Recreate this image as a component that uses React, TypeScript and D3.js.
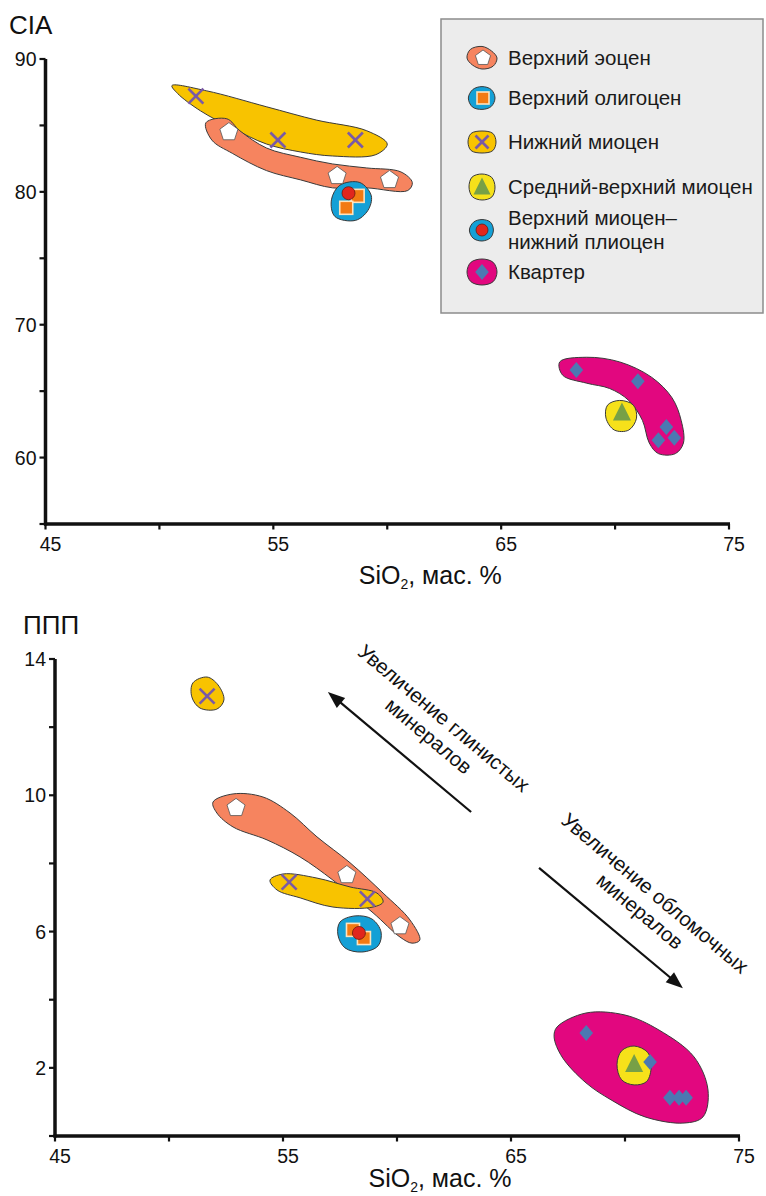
import React from "react";
import * as d3 from "d3";

// ---------- Tick definitions ----------
const xTicks = [45, 50, 55, 60, 65, 70, 75];
const xTickLabels = [45, 55, 65, 75];
const ciaTicks = [55, 60, 65, 70, 75, 80, 85, 90];
const ciaTickLabels = [60, 70, 80, 90];
const lossTicks = [0, 2, 4, 6, 8, 10, 12, 14];
const lossTickLabels = [2, 6, 10, 14];

// ---------- Top chart: CIA vs SiO2 ----------
const ciaEocene = [[53.05, 84.5], [57.8, 81.2], [60.1, 80.9]];
const ciaOligocene = [[58.7, 79.7], [58.2, 78.8]];
const ciaLowerMiocene = [[51.6, 87.2], [55.2, 83.9], [58.6, 83.9]];
const ciaMidUpperMiocene = [[70.3, 63.3]];
const ciaMioPliocene = [[58.3, 79.9]];
const ciaQuaternary = [[68.3, 66.6], [71.0, 65.75], [72.25, 62.3], [71.9, 61.3], [72.6, 61.5]];

// field outlines (SiO2, CIA)
const ciaFieldLowerMiocene = [[50.55, 88.0], [52.08, 87.6], [54.71, 86.4], [56.9, 85.4], [59.1, 84.6], [60.0, 83.6], [59.5, 82.8], [57.6, 82.7], [56.2, 83.0], [54.7, 83.6], [53.2, 84.8], [51.8, 86.1], [50.8, 87.4]];
const ciaFieldEocene = [[52.04, 85.2], [52.96, 85.5], [53.53, 84.6], [54.7, 83.3], [56.2, 82.6], [57.6, 82.1], [59.1, 81.8], [60.6, 81.5], [61.1, 80.7], [60.9, 80.1], [59.1, 80.3], [57.6, 80.3], [56.2, 80.9], [54.7, 81.6], [53.2, 82.9], [52.3, 83.9]];
const ciaFieldOligocene = [[57.92, 80.5], [58.8, 80.7], [59.3, 79.7], [59.15, 78.6], [58.6, 77.85], [57.7, 78.15], [57.55, 79.4]];
const ciaFieldQuaternary = [[67.57, 67.2], [68.75, 67.55], [70.2, 67.2], [71.6, 66.05], [72.5, 64.5], [72.9, 62.8], [73.0, 61.1], [72.65, 60.3], [71.9, 60.3], [71.5, 61.1], [71.2, 62.8], [70.6, 64.3], [69.76, 65.2], [68.75, 65.6], [67.7, 66.2]];
const ciaFieldMidUpperMiocene = [[69.67, 63.95], [70.2, 64.3], [70.8, 63.95], [70.94, 62.97], [70.6, 62.07], [69.97, 62.07], [69.6, 62.97]];

// ---------- Bottom chart: LOI (ППП) vs SiO2 ----------
const loiEocene = [[52.94, 9.63], [57.8, 7.66], [60.13, 6.16]];
const loiOligocene = [[58.07, 6.05], [58.55, 5.81]];
const loiLowerMiocene = [[51.67, 12.91], [55.27, 7.45], [58.7, 6.96]];
const loiMidUpperMiocene = [[70.4, 2.08]];
const loiMioPliocene = [[58.33, 5.96]];
const loiQuaternary = [[68.3, 3.02], [71.1, 2.17], [71.97, 1.12], [72.37, 1.12], [72.68, 1.12]];

const loiFieldEocene = [[51.93, 9.8], [52.81, 10.04], [54.12, 9.95], [55.31, 9.48], [56.49, 8.78], [57.94, 8.02], [59.39, 7.13], [60.57, 6.34], [61.0, 5.75], [60.66, 5.66], [60.13, 5.84], [58.95, 6.55], [57.19, 7.51], [55.75, 8.19], [54.3, 8.69], [52.81, 9.07], [52.1, 9.48]];
const loiFieldLowerMioceneA = [[51.05, 13.3], [51.67, 13.47], [52.15, 13.24], [52.41, 12.8], [52.1, 12.53], [51.36, 12.56], [51.0, 12.89]];
const loiFieldLowerMioceneB = [[54.43, 7.51], [55.0, 7.69], [56.49, 7.57], [57.94, 7.31], [59.12, 7.13], [59.39, 6.87], [58.95, 6.72], [57.19, 6.72], [55.75, 6.99], [54.74, 7.22]];
const loiFieldOligocene = [[57.5, 6.28], [58.16, 6.46], [58.9, 6.37], [59.3, 5.99], [59.17, 5.58], [58.46, 5.4], [57.72, 5.52], [57.41, 5.9]];
const loiFieldQuaternary = [[67.02, 3.2], [68.29, 3.61], [70.0, 3.55], [71.49, 3.11], [73.03, 2.32], [73.64, 1.35], [73.42, 0.56], [72.59, 0.38], [70.88, 0.56], [69.39, 1.06], [68.29, 1.56], [67.24, 2.32], [66.89, 2.91]];
const loiFieldMidUpperMiocene = [[70.4, 2.64], [71.0, 2.45], [71.15, 2.05], [70.95, 1.6], [70.4, 1.5], [69.85, 1.65], [69.65, 2.1], [69.85, 2.5]];

// annotation arrows (SiO2, LOI)
const arrowClay = [[63.25, 9.51], [56.97, 13.03]];
const arrowClastic = [[66.23, 7.87], [72.54, 4.34]];
const textClayLines = ["Увеличение глинистых", "минералов"];
const textClayAnchor = [62.06, 12.27];
const textClasticLines = ["Увеличение обломочных", "минералов"];
const textClasticAnchor = [71.32, 7.13];

// ---------- Legend ----------
const legendLabels = [
  ["Верхний эоцен"],
  ["Верхний олигоцен"],
  ["Нижний миоцен"],
  ["Средний-верхний миоцен"],
  ["Верхний миоцен–", "нижний плиоцен"],
  ["Квартер"],
];

const FONT = "'Liberation Sans', Arial, Helvetica, sans-serif";
const C = {
  salmon: "#f6845f",
  gold: "#f8c300",
  yellow: "#f6e11a",
  blue: "#14a0d6",
  magenta: "#e2077f",
  purple: "#7a5aa5",
  orange: "#f27a12",
  red: "#e1261d",
  green: "#77a046",
  diamond: "#4c78b2",
  outline: "#3a3a3a",
};

const W = 766;
const H = 1196;

// scales
const xTop = d3.scaleLinear().domain([45, 75]).range([45.5, 729]);
const yTop = d3.scaleLinear().domain([55, 90]).range([524, 59]);
const xBot = d3.scaleLinear().domain([45, 75]).range([55, 739]);
const yBot = d3.scaleLinear().domain([0, 14]).range([1136, 659]);

const blobPath = (pts: number[][], x: any, y: any) =>
  d3
    .line<number[]>()
    .x((d) => x(d[0]))
    .y((d) => y(d[1]))
    .curve(d3.curveCatmullRomClosed.alpha(0.5))(pts) as string;

const pentagon = (cx: number, cy: number, r: number) => {
  const p = d3.range(5).map((k) => {
    const a = -Math.PI / 2 + (k * 2 * Math.PI) / 5;
    return [cx + r * Math.cos(a), cy + r * Math.sin(a)];
  });
  return "M" + p.map((q) => q.join(",")).join("L") + "Z";
};
const triangle = (cx: number, cy: number, s: number) =>
  `M${cx},${cy - s * 0.62}L${cx + s / 2},${cy + s * 0.38}L${cx - s / 2},${cy + s * 0.38}Z`;
const diamond = (cx: number, cy: number, h: number) =>
  `M${cx},${cy - h}L${cx + h * 0.85},${cy}L${cx},${cy + h}L${cx - h * 0.85},${cy}Z`;

const Pent = ({ cx, cy }: any) => (
  <path d={pentagon(cx, cy, 9.5)} fill="#fff" stroke="#555" strokeWidth={0.8} />
);
const Cross = ({ cx, cy, s = 7.5 }: any) => (
  <g stroke={C.purple} strokeWidth={2.6} strokeLinecap="butt">
    <line x1={cx - s} y1={cy - s} x2={cx + s} y2={cy + s} />
    <line x1={cx - s} y1={cy + s} x2={cx + s} y2={cy - s} />
  </g>
);
const Sq = ({ cx, cy, s = 13 }: any) => (
  <rect x={cx - s / 2} y={cy - s / 2} width={s} height={s} fill={C.orange} stroke="#fde3bd" strokeWidth={1.6} />
);
const Dot = ({ cx, cy, r = 6.5 }: any) => (
  <circle cx={cx} cy={cy} r={r} fill={C.red} stroke="#6b1a10" strokeWidth={0.8} />
);
const Tri = ({ cx, cy, s = 18 }: any) => <path d={triangle(cx, cy, s)} fill={C.green} />;
const Dia = ({ cx, cy, h = 8 }: any) => <path d={diamond(cx, cy, h)} fill={C.diamond} />;

const Field = ({ pts, x, y, fill }: any) => (
  <path d={blobPath(pts, x, y)} fill={fill} stroke={C.outline} strokeWidth={1} />
);

function Axes({ x, y, yTicks, yLabels, yTitle, yTitleX, yTitleY, titleY }: any) {
  const [x0, x1] = x.range();
  const [yb, yt] = y.range();
  return (
    <g fontFamily={FONT} fill="#111">
      <line x1={x0 - 1.5} y1={yb} x2={x1 + 1} y2={yb} stroke="#111" strokeWidth={3.5} />
      <line x1={x0} y1={yb + 1.5} x2={x0} y2={yt} stroke="#111" strokeWidth={3.5} />
      {xTicks.map((t) => (
        <line key={"xt" + t} x1={x(t)} x2={x(t)} y1={yb} y2={yb + 5.5} stroke="#111" strokeWidth={2.2} />
      ))}
      {xTickLabels.map((t) => (
        <text key={"xl" + t} x={x(t) + 5} y={yb + 27} fontSize={19.5} textAnchor="middle">
          {t}
        </text>
      ))}
      {yTicks.map((t: number) => (
        <line key={"yt" + t} x1={x0 - 6} x2={x0} y1={y(t)} y2={y(t)} stroke="#111" strokeWidth={2.2} />
      ))}
      {yLabels.map((t: number) => (
        <text key={"yl" + t} x={x0 - 9} y={y(t)} dy="0.36em" fontSize={19.5} textAnchor="end">
          {t}
        </text>
      ))}
      <text x={(x0 + x1) / 2 + 43} y={titleY} fontSize={25} textAnchor="middle">
        SiO
        <tspan fontSize={14} dy={5}>2</tspan>
        <tspan dy={-5}>, мас. %</tspan>
      </text>
      <text x={yTitleX} y={yTitleY} fontSize={26}>
        {yTitle}
      </text>
    </g>
  );
}

function Arrow({ pts, text, anchor, id }: any) {
  const [a, b] = pts;
  const ax = xBot(a[0]), ay = yBot(a[1]);
  const bx = xBot(b[0]), by = yBot(b[1]);
  const ang = Math.atan2(by - ay, bx - ax);
  const len = 17, half = 6.5;
  const hx = bx - len * Math.cos(ang), hy = by - len * Math.sin(ang);
  const head = `M${bx},${by}L${hx - half * Math.sin(ang)},${hy + half * Math.cos(ang)}L${hx + half * Math.sin(ang)},${hy - half * Math.cos(ang)}Z`;
  const tx = xBot(anchor[0]), ty = yBot(anchor[1]);
  return (
    <g key={id}>
      <line x1={ax} y1={ay} x2={hx + 2 * Math.cos(ang)} y2={hy + 2 * Math.sin(ang)} stroke="#111" strokeWidth={2.2} />
      <path d={head} fill="#111" />
      <g transform={`translate(${tx},${ty}) rotate(40)`}>
        {text.map((t: string, i: number) => (
          <text key={i} x={0} y={i * 23.5} dy="0.35em" textAnchor="middle" fontSize={20.5} fontFamily={FONT} fill="#111">
            {t}
          </text>
        ))}
      </g>
    </g>
  );
}

const iconBlob = (cx: number, cy: number, rx: number, ry: number, f: number[]) => {
  const pts = f.map((k, i) => {
    const a = (i / f.length) * 2 * Math.PI;
    return [cx + rx * k * Math.cos(a), cy + ry * k * Math.sin(a)];
  });
  return d3.line().curve(d3.curveCatmullRomClosed.alpha(0.5))(pts as any) as string;
};

function Legend() {
  const lx = 441, ly = 19, lw = 322, lh = 294;
  const iconX = 482;
  const rowsY = [58, 98, 142, 187, 230, 272];
  const fills = [C.salmon, C.blue, C.gold, C.yellow, C.blue, C.magenta];
  const shapes = [
    [1.0, 1.05, 1.0, 0.9, 1.0, 1.1, 1.05, 0.9],
    [1.0, 1.0, 0.95, 1.05, 1.05, 1.0, 0.95, 1.0],
    [1.0, 1.1, 1.0, 1.1, 1.0, 1.1, 1.0, 1.1],
    [1.0, 1.08, 1.0, 1.05, 1.0, 1.08, 1.0, 1.05],
    [0.95, 1.0, 1.0, 1.05, 1.05, 1.0, 0.95, 1.0],
    [1.0, 1.05, 1.0, 1.05, 1.0, 1.05, 1.0, 1.05],
  ];
  const sizes = [[15, 11], [13, 12], [14, 11], [13, 13], [12, 11], [15, 13]];
  return (
    <g>
      <rect x={lx} y={ly} width={lw} height={lh} fill="#ececec" stroke="#8c8c8c" strokeWidth={1.5} />
      {rowsY.map((ry, i) => (
        <g key={i}>
          <path d={iconBlob(iconX, ry, sizes[i][0], sizes[i][1], shapes[i])} fill={fills[i]} stroke={C.outline} strokeWidth={1} />
          {i === 0 && <path d={pentagon(iconX + 1, ry, 8)} fill="#fff" stroke="#555" strokeWidth={0.8} />}
          {i === 1 && <Sq cx={iconX + 1} cy={ry} s={12} />}
          {i === 2 && <Cross cx={iconX} cy={ry} s={6.5} />}
          {i === 3 && <Tri cx={iconX} cy={ry + 1} s={17} />}
          {i === 4 && <Dot cx={iconX} cy={ry} r={6} />}
          {i === 5 && <Dia cx={iconX} cy={ry} h={8} />}
          {legendLabels[i].map((t, j) => (
            <text
              key={j}
              x={508}
              y={legendLabels[i].length > 1 ? ry - 12 + j * 24 + 7 : ry + 7}
              fontSize={20.5}
              fontFamily={FONT}
              fill="#1a1a1a"
            >
              {t}
            </text>
          ))}
        </g>
      ))}
    </g>
  );
}

export default function App() {
  const X = xTop, Y = yTop;
  const XB = xBot, YB = yBot;
  return (
    <div style={{ position: "absolute", left: 0, top: 0, width: W, height: H, background: "#fff" }}>
      <svg width={W} height={H} viewBox={`0 0 ${W} ${H}`} style={{ display: "block" }}>
        <rect width={W} height={H} fill="#fff" />
        {/* ---------- Top chart ---------- */}
        <Axes x={X} y={Y} yTicks={ciaTicks} yLabels={ciaTickLabels} yTitle="CIA" yTitleX={9} yTitleY={34} titleY={584} />
        <Legend />
        <Field pts={ciaFieldLowerMiocene} x={X} y={Y} fill={C.gold} />
        <Field pts={ciaFieldEocene} x={X} y={Y} fill={C.salmon} />
        <Field pts={ciaFieldOligocene} x={X} y={Y} fill={C.blue} />
        <Field pts={ciaFieldQuaternary} x={X} y={Y} fill={C.magenta} />
        <Field pts={ciaFieldMidUpperMiocene} x={X} y={Y} fill={C.yellow} />
        {ciaLowerMiocene.map((d, i) => <Cross key={"a" + i} cx={X(d[0])} cy={Y(d[1])} />)}
        {ciaEocene.map((d, i) => <Pent key={"b" + i} cx={X(d[0])} cy={Y(d[1])} />)}
        {ciaOligocene.map((d, i) => <Sq key={"c" + i} cx={X(d[0])} cy={Y(d[1])} />)}
        {ciaMioPliocene.map((d, i) => <Dot key={"d" + i} cx={X(d[0])} cy={Y(d[1])} />)}
        {ciaQuaternary.map((d, i) => <Dia key={"e" + i} cx={X(d[0])} cy={Y(d[1])} />)}
        {ciaMidUpperMiocene.map((d, i) => <Tri key={"f" + i} cx={X(d[0])} cy={Y(d[1])} />)}

        {/* ---------- Bottom chart ---------- */}
        <Axes x={XB} y={YB} yTicks={lossTicks} yLabels={lossTickLabels} yTitle="ППП" yTitleX={23} yTitleY={634} titleY={1187} />
        <Field pts={loiFieldEocene} x={XB} y={YB} fill={C.salmon} />
        <Field pts={loiFieldLowerMioceneA} x={XB} y={YB} fill={C.gold} />
        <Field pts={loiFieldLowerMioceneB} x={XB} y={YB} fill={C.gold} />
        <Field pts={loiFieldOligocene} x={XB} y={YB} fill={C.blue} />
        <Field pts={loiFieldQuaternary} x={XB} y={YB} fill={C.magenta} />
        <Field pts={loiFieldMidUpperMiocene} x={XB} y={YB} fill={C.yellow} />
        {loiEocene.map((d, i) => <Pent key={"g" + i} cx={XB(d[0])} cy={YB(d[1])} />)}
        {loiLowerMiocene.map((d, i) => <Cross key={"h" + i} cx={XB(d[0])} cy={YB(d[1])} />)}
        {loiOligocene.map((d, i) => <Sq key={"k" + i} cx={XB(d[0])} cy={YB(d[1])} />)}
        {loiMioPliocene.map((d, i) => <Dot key={"l" + i} cx={XB(d[0])} cy={YB(d[1])} />)}
        {loiQuaternary.map((d, i) => <Dia key={"m" + i} cx={XB(d[0])} cy={YB(d[1])} />)}
        {loiMidUpperMiocene.map((d, i) => <Tri key={"n" + i} cx={XB(d[0])} cy={YB(d[1])} />)}
        <Arrow id="a1" pts={arrowClay} text={textClayLines} anchor={textClayAnchor} />
        <Arrow id="a2" pts={arrowClastic} text={textClasticLines} anchor={textClasticAnchor} />
      </svg>
    </div>
  );
}
